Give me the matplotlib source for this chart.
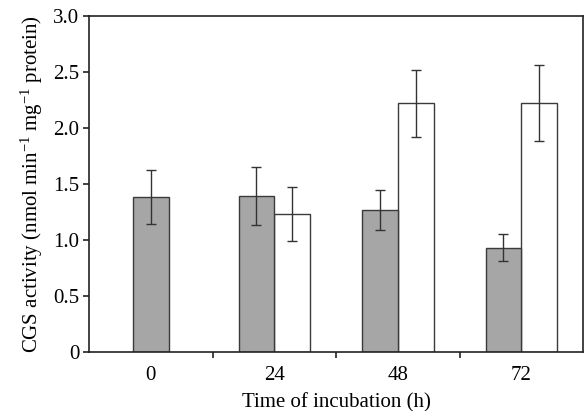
import matplotlib
matplotlib.use("Agg")
import matplotlib.pyplot as plt
import numpy as np

plt.rcParams['font.family'] = ['Liberation Serif', 'DejaVu Serif']
plt.rcParams['mathtext.fontset'] = 'custom'
plt.rcParams['mathtext.rm'] = 'Liberation Serif'
plt.rcParams['mathtext.it'] = 'Liberation Serif:italic'

categories = ["0", "24", "48", "72"]
grey_values = [1.38, 1.39, 1.27, 0.93]
grey_errors = [0.24, 0.26, 0.18, 0.12]
white_values = [None, 1.23, 2.22, 2.22]
white_errors = [None, 0.24, 0.30, 0.34]
y_ticks = [0, 0.5, 1.0, 1.5, 2.0, 2.5, 3.0]
y_tick_labels = ["0", "0.5", "1.0", "1.5", "2.0", "2.5", "3.0"]

fig = plt.figure(figsize=(5.86, 4.11), dpi=100)
ax = fig.add_axes([0.152, 0.144, 0.843, 0.817])

width = 0.29
edge = '#3a3a3a'
err_kw = dict(ecolor='#333333', elinewidth=1.0, capsize=3.5, capthick=1.0)

for i, (gv, ge, wv, we) in enumerate(zip(grey_values, grey_errors, white_values, white_errors)):
    if wv is None:
        gx = i
    else:
        gx = i - width / 2
        ax.bar(i + width / 2, wv, width, yerr=we, color='white', edgecolor=edge,
               linewidth=1.0, error_kw=err_kw, zorder=2)
    ax.bar(gx, gv, width, yerr=ge, color='#a6a6a6', edgecolor=edge,
           linewidth=1.0, error_kw=err_kw, zorder=2)

ax.set_xlim(-0.5, 3.5)
ax.set_ylim(0, 3.0)
ax.set_yticks(y_ticks)
ax.set_yticklabels(y_tick_labels, fontsize=15)

ax.set_xticks([0.5, 1.5, 2.5])
ax.set_xticklabels([])
ax.set_xticks(range(len(categories)), minor=True)
ax.set_xticklabels(categories, minor=True, fontsize=15)
ax.tick_params(axis='x', which='minor', length=0, pad=10)
ax.tick_params(axis='x', which='major', direction='out', length=4, width=1.2, color='#222222')
ax.tick_params(axis='y', direction='out', length=4, width=1.2, color='#222222', pad=3)

for s in ax.spines.values():
    s.set_linewidth(1.2)
    s.set_color('#222222')

ax.set_ylabel('CGS activity (nmol min$^{-1}$ mg$^{-1}$ protein)', fontsize=15, labelpad=6)
ax.set_xlabel('Time of incubation (h)', fontsize=15, labelpad=6)

fig.savefig('out.png', dpi=100)
